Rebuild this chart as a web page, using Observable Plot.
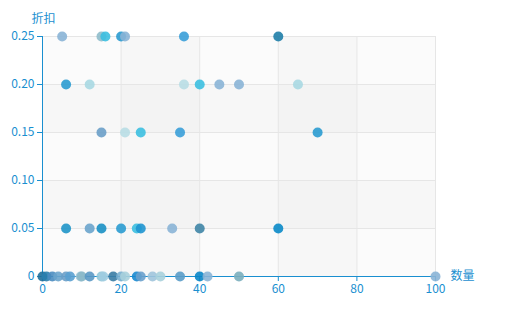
<!DOCTYPE html>
<html><head><meta charset="utf-8">
<script src="https://cdn.jsdelivr.net/npm/d3@7"></script>
<script src="https://cdn.jsdelivr.net/npm/@observablehq/plot@0.6"></script>
<style>body{margin:0;background:#fff}</style>
</head><body><div id="chart"></div>
<script>
const quantity = [0,1,2.5,4,6,7,9.7,10,12,15,15.5,18,20,21,24,25,28,30,35,40,42,50,100,
  6,12,15,20,24,25,33,40,60,
  15,21,25,35,70,
  6,12,36,40,45,50,65,
  5,15,16,20,21,36,60];
const discount = [0,0,0,0,0,0,0,0,0,0,0,0,0,0,0,0,0,0,0,0,0,0,0,
  0.05,0.05,0.05,0.05,0.05,0.05,0.05,0.05,0.05,
  0.15,0.15,0.15,0.15,0.15,
  0.2,0.2,0.2,0.2,0.2,0.2,0.2,
  0.25,0.25,0.25,0.25,0.25,0.25,0.25];
const xTicks = [0,20,40,60,80,100];
const yTicks = [0,0.05,0.10,0.15,0.20,0.25];
const xLabel = "数量";
const yLabel = "折扣";

// style only
const dotColors = ["#1f6f9a","#2a7fae","#4a8cc0","#6aa4cc","#6a9ec8","#5aa0d0","#a0c8d8","#8ab8c8","#5a98c4","#90c8d8","#a0cce0","#3a7ca4","#7ab0d0","#a8d0dc","#1a8ad0","#6aa0cc","#a0c4dc","#a8d0dc","#5a9cc8","#0a86c8","#8ab4d6","#7aaebc","#8ab4d6",
  "#1f95c8","#6aa4cc","#1a90c4","#2a9bd0","#3cbfe0","#1f95d0","#8ab4d6","#3f85a6","#0a8ac8",
  "#6a9ec8","#b8dde4","#3cbfe0","#3a9fd8","#2a9bd0",
  "#2a9bd0","#a8d8e2","#b8dde4","#3cbfe0","#8ab4d6","#8ab4d6","#a8d8e2",
  "#8ab4d6","#8fbccb","#3cbfe0","#2a9bd0","#8ab4d6","#3a9fd8","#1f7ea8"];

const pts = quantity.map((q,i)=>({q, d: discount[i], c: dotColors[i]}));
const xBands = d3.pairs(xTicks).map(([a,b],i)=>({a,b,i}));
const yBands = d3.pairs(yTicks).map(([a,b],i)=>({a,b,i}));
const axisColor = "#1a8fd0";

const chart = Plot.plot({
  width: 520, height: 312,
  marginLeft: 42, marginRight: 85, marginTop: 36, marginBottom: 36,
  style: {fontFamily: "'Noto Sans CJK SC', 'Noto Sans', sans-serif", fontSize: "12px", color: axisColor, background: "#fff"},
  x: {domain: [0,100], ticks: xTicks},
  y: {domain: [0,0.25], ticks: yTicks},
  marks: [
    Plot.rect(xBands, {x1:"a", x2:"b", y1:0, y2:0.25, fill:"#000", fillOpacity: d => d.i % 2 ? 0.025 : 0.006}),
    Plot.rect(yBands, {y1:"a", y2:"b", x1:0, x2:100, fill:"#000", fillOpacity: d => d.i % 2 ? 0.025 : 0.006}),
    Plot.gridX(xTicks, {stroke:"#e6e6e6", strokeOpacity:1}),
    Plot.gridY(yTicks, {stroke:"#e6e6e6", strokeOpacity:1}),
    Plot.ruleX([0], {stroke: axisColor, strokeWidth: 1}),
    Plot.ruleY([0], {stroke: axisColor, strokeWidth: 1}),
    Plot.axisX(xTicks, {tickSize: 5, tickPadding: 3, stroke: axisColor, fill: axisColor, label: null, tickFormat: d => d}),
    Plot.axisY(yTicks, {tickSize: 5, tickPadding: 3, stroke: axisColor, fill: axisColor, label: null, tickFormat: d => d === 0 ? "0" : d3.format(".2f")(d)}),
    Plot.dot(pts, {x:"q", y:"d", r:5, fill: d => d.c, fillOpacity: 0.9, stroke: null}),
    Plot.text([yLabel], {frameAnchor:"top-left", dy:-22, dx:1, fill: axisColor, fontSize: 12, textAnchor:"middle"}),
    Plot.text([xLabel], {frameAnchor:"bottom-right", dx:15, dy:3, fill: axisColor, fontSize: 12, textAnchor:"start"})
  ]
});
document.getElementById("chart").appendChild(chart);
</script>
</body></html>
